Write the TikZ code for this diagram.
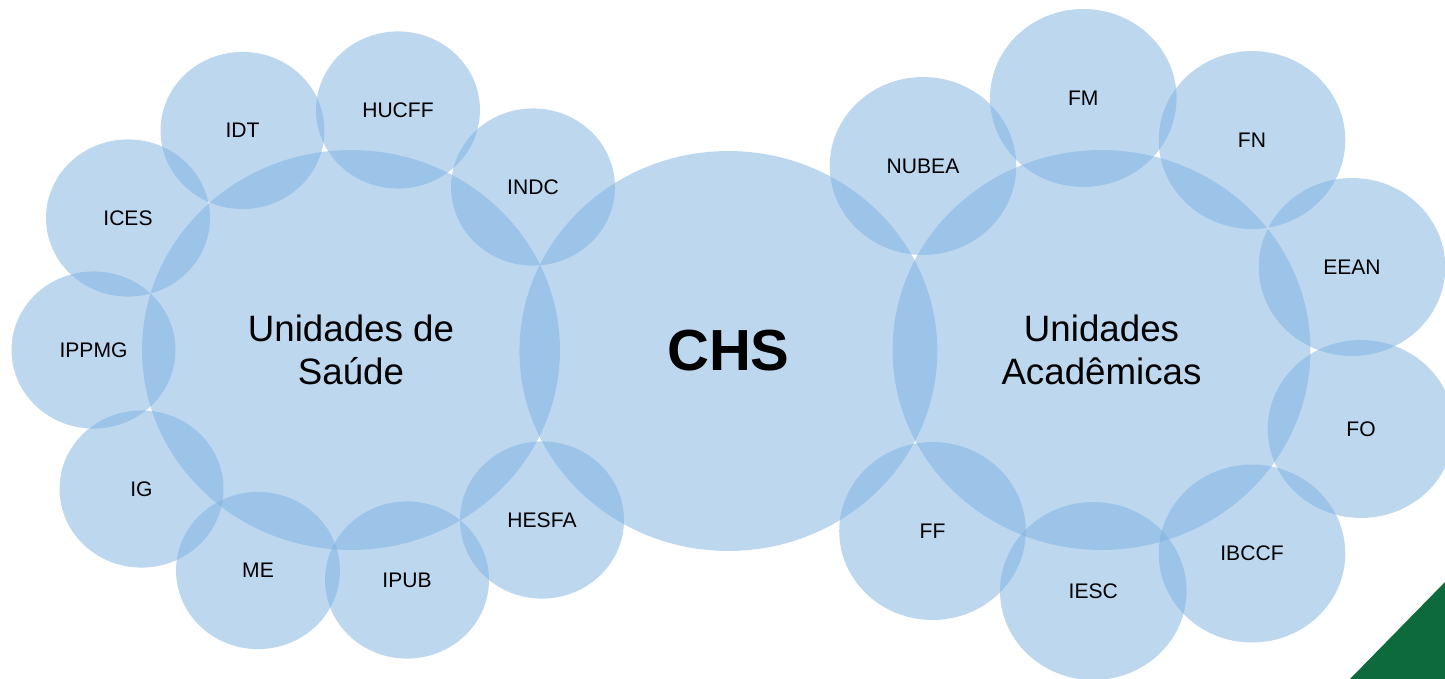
\documentclass[tikz,border=0pt]{standalone}
\usepackage{fontspec}
\setmainfont{Liberation Sans}
\usetikzlibrary{shapes.geometric}
\definecolor{unitblue}{RGB}{123,176,224}
\definecolor{cornergreen}{RGB}{12,106,60}

\begin{document}
\begin{tikzpicture}[x=0.02cm, y=-0.02cm,
    blob/.style={ellipse, fill=unitblue, fill opacity=0.5, text opacity=1, inner sep=0pt},
    bigunit/.style={blob, minimum width=8.36cm, minimum height=8cm, align=center,
        font=\fontsize{20.9}{24.5}\selectfont},
    healthunit/.style={blob, minimum width=3.28cm, minimum height=3.144cm,
        font=\fontsize{12}{14}\selectfont},
    academicunit/.style={blob, minimum width=3.732cm, minimum height=3.56cm,
        font=\fontsize{12}{14}\selectfont}]
    \useasboundingbox (0,0) rectangle (1445,679);
    % three big circles
    \node[bigunit] (saude) at (351,350) {Unidades de\\Saúde};
    \node[bigunit, font=\fontsize{33}{40}\selectfont\bfseries] (chs) at (728.4,351) {CHS};
    \node[bigunit] (academicas) at (1101.5,350) {Unidades\\Acadêmicas};
    % health units
    \node[healthunit] (idt) at (242.5,130.5) {IDT};
    \node[healthunit] (hucff) at (398,110) {HUCFF};
    \node[healthunit] (indc) at (533,187) {INDC};
    \node[healthunit] (ices) at (128,218) {ICES};
    \node[healthunit] (ippmg) at (93.5,350) {IPPMG};
    \node[healthunit] (ig) at (141.5,489) {IG};
    \node[healthunit] (me) at (258,570.5) {ME};
    \node[healthunit] (ipub) at (407,580) {IPUB};
    \node[healthunit] (hesfa) at (542,520) {HESFA};
    % academic units
    \node[academicunit] (nubea) at (923,166) {NUBEA};
    \node[academicunit] (fm) at (1083.3,98) {FM};
    \node[academicunit] (fn) at (1252,140) {FN};
    \node[academicunit] (eean) at (1352,267) {EEAN};
    \node[academicunit] (fo) at (1361,429) {FO};
    \node[academicunit] (ibccf) at (1252,553.5) {IBCCF};
    \node[academicunit] (iesc) at (1093.3,591) {IESC};
    \node[academicunit] (ff) at (932.5,531) {FF};
    % corner
    \fill[cornergreen] (1350,679) -- (1445,582) -- (1445,679) -- cycle;
\end{tikzpicture}
\end{document}
